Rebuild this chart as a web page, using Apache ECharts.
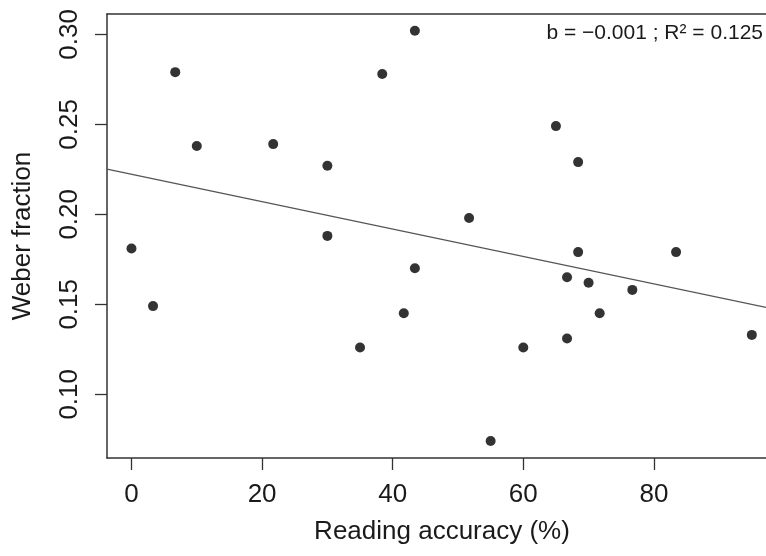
<!DOCTYPE html>
<html>
<head>
<meta charset="utf-8">
<script src="https://cdn.jsdelivr.net/npm/echarts@6/dist/echarts.min.js"></script>
<style>
  html, body { margin: 0; padding: 0; background: #fff; }
  #chart { width: 766px; height: 556px; }
</style>
</head>
<body>
<div id="chart"></div>
<script>
// Reading accuracy (%) per participant
const readingAccuracy = [
  0.0, 3.3, 6.7, 10.0, 21.7, 30.0, 30.0, 35.0, 38.4, 41.7,
  43.4, 43.4, 51.7, 55.0, 60.0, 65.0, 66.7, 66.7, 68.4, 68.4,
  70.0, 71.7, 76.7, 83.4, 95.0
];
// Weber fraction per participant
const weberFraction = [
  0.181, 0.149, 0.279, 0.238, 0.239, 0.227, 0.188, 0.126, 0.278, 0.145,
  0.302, 0.170, 0.198, 0.074, 0.126, 0.249, 0.165, 0.131, 0.229, 0.179,
  0.162, 0.145, 0.158, 0.179, 0.133
];
// Least-squares fit
const fitIntercept = 0.2223;
const fitSlope = -0.000762;
const fitLabel = 'b = \u22120.001 ; R\u00b2 = 0.125';

const xTicks = [0, 20, 40, 60, 80];
const yTicks = [0.10, 0.15, 0.20, 0.25, 0.30];

// Visible axis window (the panel runs past the right edge of the canvas)
const xMin = -3.75, xMax = 97.17;
const yMin = 0.0646, yMax = 0.3113;

const points = readingAccuracy.map((x, i) => [x, weberFraction[i]]);
const fitLine = [xMin, xMax].map(x => [x, fitIntercept + fitSlope * x]);

const FONT = '"Liberation Sans", Arial, sans-serif';
const INK = '#1a1a1a';
const FRAME = { color: '#333', width: 1.5 };

const chart = echarts.init(document.getElementById('chart'), null, { renderer: 'canvas' });
chart.setOption({
  animation: false,
  backgroundColor: '#fff',
  grid: {
    show: false,
    left: 107, top: 14, right: 0, bottom: 98
  },
  xAxis: [
    {
      type: 'value',
      position: 'bottom',
      min: xMin, max: xMax,
      name: 'Reading accuracy (%)',
      nameLocation: 'middle',
      nameGap: 61,
      // centred on the full panel width, which continues past the canvas
      nameTextStyle: { fontFamily: FONT, fontSize: 26, color: INK, padding: [0, 0, 0, 11] },
      axisLine: { show: true, onZero: false, lineStyle: FRAME },
      splitLine: { show: false },
      axisTick: {
        show: true, inside: false, length: 12,
        customValues: xTicks,
        lineStyle: { color: '#333', width: 1.3 }
      },
      axisLabel: {
        customValues: xTicks,
        margin: 24,
        fontFamily: FONT, fontSize: 26, color: INK
      }
    },
    {
      // top edge of the frame
      type: 'value',
      position: 'top',
      min: xMin, max: xMax,
      axisLine: { show: true, onZero: false, lineStyle: FRAME },
      axisTick: { show: false },
      axisLabel: { show: false },
      splitLine: { show: false }
    }
  ],
  yAxis: {
    type: 'value',
    min: yMin, max: yMax,
    name: 'Weber fraction',
    nameLocation: 'middle',
    nameRotate: 90,
    nameGap: 71,
    nameTextStyle: { fontFamily: FONT, fontSize: 26, color: INK },
    axisLine: { show: true, onZero: false, lineStyle: FRAME },
    splitLine: { show: false },
    axisTick: {
      show: true, inside: false, length: 12,
      customValues: yTicks,
      lineStyle: { color: '#333', width: 1.3 }
    },
    axisLabel: {
      customValues: yTicks,
      rotate: 90,
      margin: 24,
      fontFamily: FONT, fontSize: 26, color: INK,
      formatter: v => v.toFixed(2)
    }
  },
  series: [
    {
      type: 'line',
      data: fitLine,
      symbol: 'none',
      clip: true,
      lineStyle: { color: '#555', width: 1.3 },
      z: 1
    },
    {
      type: 'scatter',
      data: points,
      symbol: 'circle',
      symbolSize: 10,
      itemStyle: { color: '#000' },
      z: 2
    }
  ],
  graphic: [
    {
      type: 'text',
      x: 763, y: 33,
      style: {
        text: fitLabel,
        textAlign: 'right',
        textVerticalAlign: 'middle',
        fontFamily: FONT,
        fontSize: 21,
        fill: INK
      }
    }
  ]
});
</script>
</body>
</html>
